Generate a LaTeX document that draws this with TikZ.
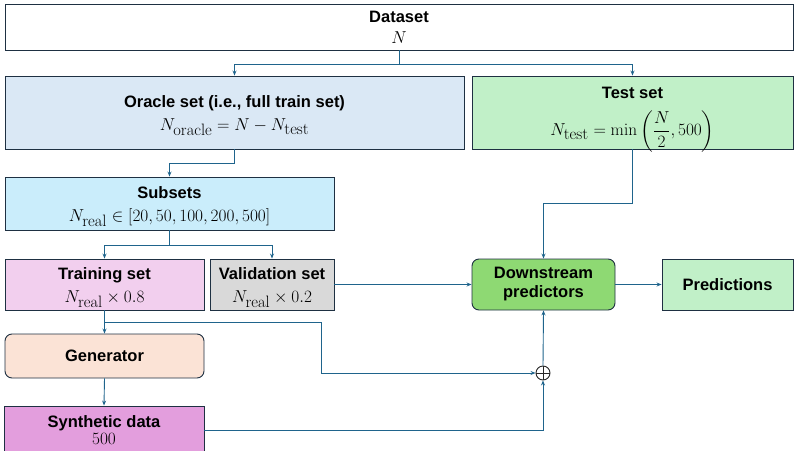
\documentclass[tikz,border=0pt]{standalone}
\usepackage{amsmath}
\usepackage[no-math]{fontspec}
\setmainfont{Liberation Sans}
\newfontfamily\lmfont{Latin Modern Roman}
\usetikzlibrary{arrows.meta}
\definecolor{lineblue}{RGB}{31,100,140}
\definecolor{edgedark}{RGB}{30,48,66}
\definecolor{oraclefill}{RGB}{218,232,245}
\definecolor{testfill}{RGB}{193,240,200}
\definecolor{subsetfill}{RGB}{202,237,251}
\definecolor{trainfill}{RGB}{242,207,238}
\definecolor{valfill}{RGB}{217,217,217}
\definecolor{downfill}{RGB}{142,217,115}
\definecolor{genfill}{RGB}{251,227,214}
\definecolor{synthfill}{RGB}{227,158,221}
\newcommand{\mathsz}{\fontsize{18.5}{20}\selectfont}
\newcommand{\lbl}[1]{\textnormal{\fontsize{16.5}{16.5}\selectfont\lmfont #1}}
\newcommand{\tstrut}[1]{\rule{0pt}{#1}}

\begin{document}
\begin{tikzpicture}[x=1pt,y=-1pt,
  box/.style={draw=edgedark, line width=0.9pt, align=center, inner sep=0pt,
    font=\fontsize{16.5}{19}\selectfont\bfseries},
  rbox/.style={box, rounded corners=7pt},
  conn/.style={draw=lineblue, line width=0.9pt, -{Stealth[length=5pt,width=4pt]}},
  plain/.style={draw=lineblue, line width=0.9pt}]
  \useasboundingbox (0,0) rectangle (798,450);
  % boxes
  \node[box, fill=white, minimum width=788pt, minimum height=46pt] (data) at (399,27)
    {Dataset\\[2pt]\mathsz$N$};
  \node[box, fill=oraclefill, minimum width=459pt, minimum height=73pt] (oracle) at (234.5,112.5)
    {\tstrut{18pt}Oracle set (i.e., full train set)\\[4pt]\mathsz$N_{\lbl{oracle}} = N - N_{\lbl{test}}$};
  \node[box, fill=testfill, minimum width=321pt, minimum height=73pt] (test) at (632.5,112.5) {};
  \node[box, draw=none, fill=none] (testtext) at ([yshift=-7pt]test.center)
    {Test set\\[11pt]\mathsz$N_{\lbl{test}} = \min\left(\dfrac{N}{2}, 500\right)$};
  \node[box, fill=subsetfill, minimum width=329pt, minimum height=53pt] (subsets) at (169.5,203.5)
    {\tstrut{18pt}Subsets\\[4pt]\mathsz$N_{\lbl{real}} \in [20, 50, 100, 200, 500]$};
  \node[box, fill=trainfill, minimum width=199pt, minimum height=51pt] (train) at (104.5,284.5)
    {\tstrut{18pt}Training set\\[4pt]\mathsz$N_{\lbl{real}} \times 0.8$};
  \node[box, fill=valfill, minimum width=124pt, minimum height=51pt] (val) at (272,284.5)
    {\tstrut{18pt}Validation set\\[4pt]\mathsz$N_{\lbl{real}} \times 0.2$};
  \node[rbox, fill=downfill, minimum width=143pt, minimum height=51pt] (down) at (543.5,284.5)
    {Downstream\\predictors};
  \node[box, fill=testfill, minimum width=131pt, minimum height=51pt] (pred) at (727.5,284.5)
    {Predictions};
  \node[rbox, fill=genfill, minimum width=199pt, minimum height=44pt] (gen) at (104.5,356)
    {Generator};
  \node[box, fill=synthfill, minimum width=200pt, minimum height=48pt] (synth) at (104,430)
    {Synthetic data\\[-2pt]\mathsz$500$};
  \node[draw=black!85, line width=0.9pt, circle, minimum size=14pt, inner sep=0pt,
    path picture={\draw[black!85, line width=0.9pt]
      (path picture bounding box.north) -- (path picture bounding box.south)
      (path picture bounding box.west) -- (path picture bounding box.east);}] (sum) at (543,373) {};
  \coordinate (split) at (104.5,322);
  % connectors
  \draw[conn] (data.south) -- ++(0,14) -| (oracle.north);
  \draw[conn] (data.south) -- ++(0,14) -| (test.north);
  \draw[conn] (oracle.south) -- ++(0,14) -| (subsets.north);
  \draw[conn] (subsets.south) -- ++(0,15) -| (train.north);
  \draw[conn] (subsets.south) -- ++(0,15) -| (val.north);
  \draw[conn] (val.east) -- (down.west);
  \draw[conn] (test.south) -- ++(0,54) -| (down.north);
  \draw[conn] (down.east) -- (pred.west);
  \draw[plain] (train.south) -- (split);
  \draw[conn] (split) -- (gen.north);
  \draw[conn] (split) -| ++(216.5,51) -- (sum.west);
  \draw[conn] (gen.south) -- (synth.north);
  \draw[conn] (synth.east) -| (sum.south);
  \draw[conn] (sum.north) -- (down.south);
\end{tikzpicture}
\end{document}
